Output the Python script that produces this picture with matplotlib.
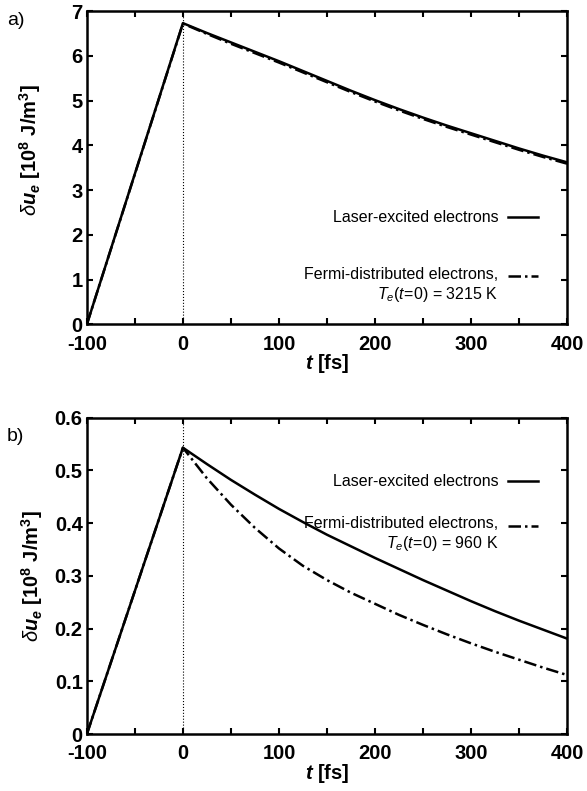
import matplotlib
matplotlib.use('Agg')
import matplotlib.pyplot as plt
from matplotlib.legend_handler import HandlerLine2D
import numpy as np

plt.rcParams['font.family'] = ['Liberation Sans', 'DejaVu Sans']
plt.rcParams['axes.unicode_minus'] = False
plt.rcParams['mathtext.fontset'] = 'custom'
plt.rcParams['mathtext.rm'] = 'Liberation Sans'
plt.rcParams['mathtext.it'] = 'Liberation Sans:italic'
plt.rcParams['mathtext.bf'] = 'Liberation Sans:bold'
plt.rcParams['mathtext.bfit'] = 'Liberation Sans:italic:bold'

# time axis [fs]
t = [-100, 0, 25, 50, 75, 100, 125, 150, 175, 200, 225, 250, 275, 300, 325, 350, 375, 400]

# panel a) energy density [1e8 J/m^3]
a_laser = [0, 6.73, 6.51, 6.30, 6.09, 5.88, 5.66, 5.44, 5.22, 5.01, 4.81, 4.62, 4.44,
           4.27, 4.10, 3.93, 3.77, 3.62]
a_fermi = [0, 6.72, 6.49, 6.27, 6.06, 5.85, 5.63, 5.41, 5.19, 4.98, 4.78, 4.59, 4.41,
           4.24, 4.07, 3.90, 3.74, 3.59]
a_temp = '3215 K'

# panel b)
b_laser = [0, 0.543, 0.512, 0.482, 0.454, 0.427, 0.402, 0.378, 0.356, 0.334, 0.313,
           0.292, 0.272, 0.252, 0.233, 0.215, 0.198, 0.181]
b_fermi = [0, 0.543, 0.485, 0.435, 0.391, 0.352, 0.319, 0.292, 0.268, 0.247, 0.226,
           0.207, 0.189, 0.172, 0.156, 0.141, 0.126, 0.112]
b_temp = '960 K'


class FirstLineHandler(HandlerLine2D):
    # put the legend sample level with the first line of a two-line label
    def create_artists(self, legend, orig_handle, xdescent, ydescent, width, height,
                       fontsize, trans):
        return super().create_artists(legend, orig_handle, xdescent,
                                      ydescent - 1.15 * fontsize, width, height,
                                      fontsize, trans)


fig = plt.figure(figsize=(5.87, 7.91), dpi=100)
ax_a = fig.add_axes([0.148, 0.590, 0.818, 0.396])
ax_b = fig.add_axes([0.148, 0.072, 0.818, 0.400])

ylab = r'$\delta\mathbfit{u}_{\mathbfit{e}}\ \mathbf{[10^{8}\ J/m^{3}]}$'


def draw(ax, laser, fermi, temp, ymax, ystep, fmt, leg_y, spacing, lab_xy):
    ax.plot(t, laser, color='black', lw=1.8, ls='-', label='Laser-excited electrons')
    fl, = ax.plot(t, fermi, color='black', lw=1.8, ls=(0, (5, 1.6, 1, 1.6)),
                  label='Fermi-distributed electrons,\n$T_e(t\\!=\\!0)$ = ' + temp)
    ax.axvline(0, color='black', lw=0.8, ls=':')
    ax.set_xlim(-100, 400)
    ax.set_ylim(0, ymax)
    ax.set_xticks(np.arange(-100, 401, 100))
    ax.set_xticks(np.arange(-100, 401, 50), minor=True)
    ax.set_yticks(np.arange(0, ymax + ystep / 2, ystep))
    ax.yaxis.set_major_formatter(plt.FuncFormatter(lambda v, p: fmt(v)))
    ax.tick_params(which='both', direction='in', top=True, right=True, width=1.5,
                   labelsize=14.5, length=4)
    ax.tick_params(axis='x', pad=7.5)
    ax.tick_params(axis='y', pad=3)
    for lab in ax.get_xticklabels() + ax.get_yticklabels():
        lab.set_fontweight('bold')
    for s in ax.spines.values():
        s.set_linewidth(1.8)
    ax.set_xlabel(r'$\mathbfit{t}$ [fs]', fontsize=14.5, fontweight='bold', labelpad=-1)
    ax.set_ylabel(ylab, fontsize=14.5)
    ax.yaxis.set_label_coords(*lab_xy)
    leg = ax.legend(loc='upper right', bbox_to_anchor=(0.97, leg_y), frameon=False,
                    markerfirst=False, fontsize=11.5, handlelength=1.9,
                    labelspacing=spacing, handletextpad=0.6,
                    handler_map={fl: FirstLineHandler()})
    for txt in leg.get_texts():
        txt.set_multialignment('right')


draw(ax_a, a_laser, a_fermi, a_temp, 7, 1, lambda v: '%d' % round(v), 0.41, 2.6,
     (-0.092, 0.555))
draw(ax_b, b_laser, b_fermi, b_temp, 0.6, 0.1,
     lambda v: '0' if abs(v) < 1e-9 else '%.1f' % v, 0.867, 1.7, (-0.088, 0.5))

fig.text(0.012, 0.968, 'a)', fontsize=14)
fig.text(0.012, 0.443, 'b)', fontsize=14)

fig.savefig('out.png', dpi=100)
